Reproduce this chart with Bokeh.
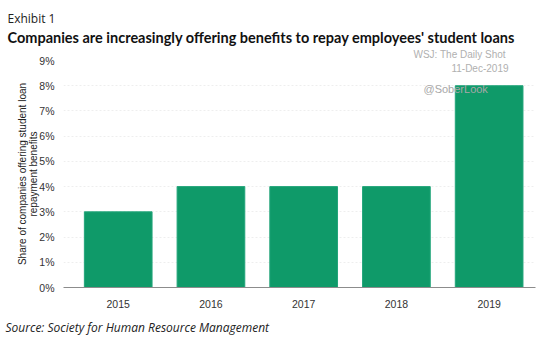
from bokeh.plotting import figure
from bokeh.models import Range1d, FixedTicker, Label, Title
from bokeh.embed import file_html
from bokeh.resources import INLINE

years = ["2015", "2016", "2017", "2018", "2019"]
share_pct = [3, 4, 4, 4, 8]
y_ticks = [0, 1, 2, 3, 4, 5, 6, 7, 8, 9]

xs = [i + 0.5 for i in range(len(years))]

p = figure(width=541, height=352, output_backend="svg", toolbar_location=None,
           x_range=Range1d(-0.09, 5.0), y_range=Range1d(0, 9),
           min_border_left=63, min_border_right=6, min_border_top=60, min_border_bottom=65)
p.background_fill_color = "white"
p.border_fill_color = "white"
p.outline_line_color = None

p.vbar(x=xs, top=share_pct, width=0.73, fill_color="#0f9a69", line_color="#22a57a", line_width=1)

p.xaxis.ticker = FixedTicker(ticks=xs)
p.xaxis.major_label_overrides = {x: y for x, y in zip(xs, years)}
p.xaxis.major_tick_line_color = None
p.xaxis.minor_tick_line_color = None
p.xaxis.axis_line_color = "#8c8c8c"
p.xaxis.major_label_text_font = "Liberation Sans"
p.xaxis.major_label_text_font_size = "10.5px"
p.xaxis.major_label_text_color = "#333333"
p.xaxis.major_label_standoff = 6

p.yaxis.ticker = FixedTicker(ticks=y_ticks)
p.yaxis.major_label_overrides = {t: f"{t}%" for t in y_ticks}
p.yaxis.axis_line_color = None
p.yaxis.major_tick_line_color = None
p.yaxis.minor_tick_line_color = None
p.yaxis.major_label_text_font = "Liberation Sans"
p.yaxis.major_label_text_font_size = "10.5px"
p.yaxis.major_label_text_color = "#333333"
p.yaxis.major_label_standoff = 3

p.xgrid.grid_line_color = None
p.ygrid.grid_line_color = "#eeeeee"
p.ygrid.grid_line_dash = "2 2"

# y-axis title, two centred lines (first added is closest to the frame)
for line, so in [("repayment benefits", -4), ("Share of companies offering student loan", 0)]:
    p.add_layout(Title(text=line, align="center", text_font="Liberation Sans",
                       text_font_size="10px", text_font_style="normal",
                       text_color="#222222", standoff=so), "left")

# titles above (first added is closest to the frame)
p.add_layout(Title(text="WSJ: The Daily Shot", align="left", offset=350,
                   text_font="Liberation Sans", text_font_size="10px",
                   text_font_style="normal", text_color="#b0b0b0", standoff=2), "above")
p.add_layout(Title(text="Companies are increasingly offering benefits to repay employees' student loans",
                   align="left", offset=-56, text_font="Lato", text_font_size="14.5px",
                   text_font_style="bold", text_color="#111111", standoff=0), "above")
p.add_layout(Title(text="Exhibit 1", align="left", offset=-56, text_font="Open Sans",
                   text_font_size="12px", text_font_style="normal", text_color="#222222",
                   standoff=0), "above")

p.add_layout(Title(text="Source: Society for Human Resource Management", align="left", offset=-58,
                   text_font="Open Sans", text_font_size="12px", text_font_style="italic",
                   text_color="#222222", standoff=13), "below")

# watermarks inside the frame (screen units relative to frame)
p.add_layout(Label(x=445, y=219, x_units="screen", y_units="screen", text="11-Dec-2019",
                   text_font="Liberation Sans", text_font_size="10px", text_color="#b0b0b0",
                   text_align="right", text_baseline="middle"))
p.add_layout(Label(x=360, y=199, x_units="screen", y_units="screen", text="@SoberLook",
                   text_font="Liberation Sans", text_font_size="11px", text_color="#a8a8a8",
                   text_align="left", text_baseline="middle"))

open("out.html", "w").write(file_html(p, INLINE))
